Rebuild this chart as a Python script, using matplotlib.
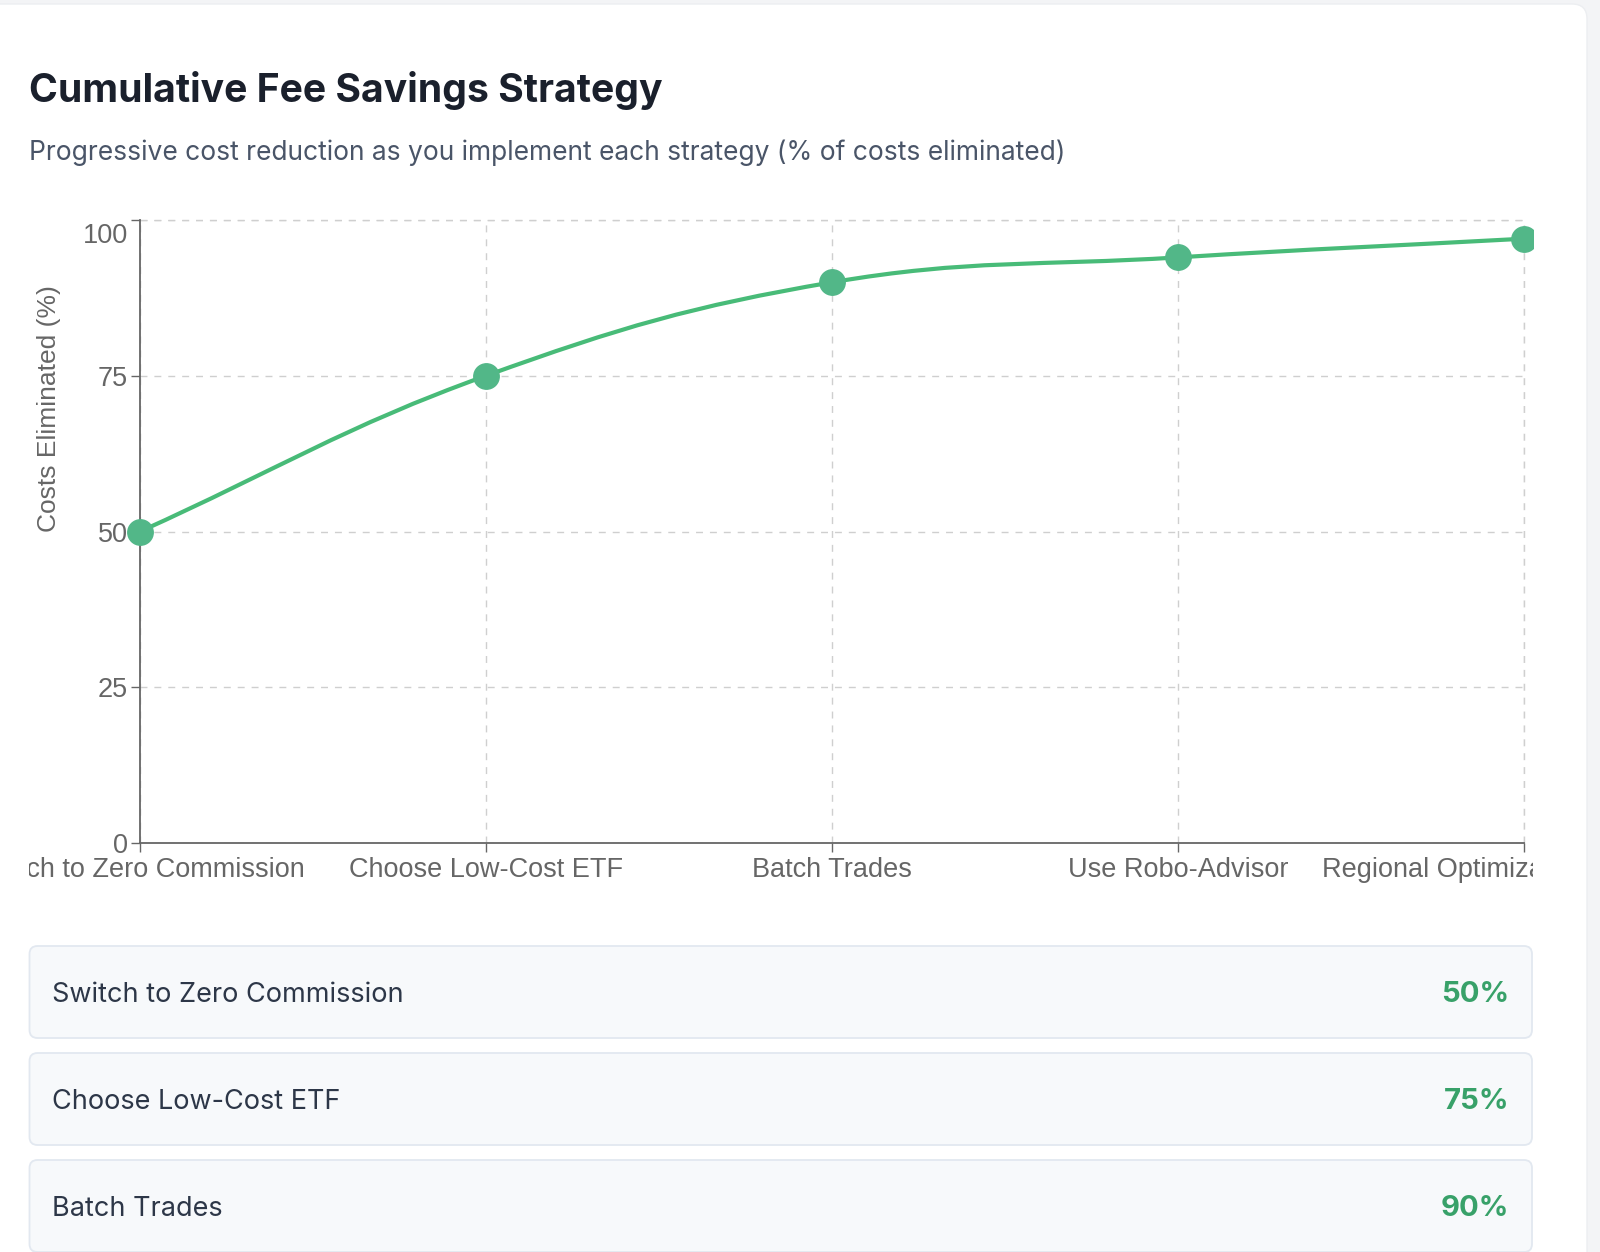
import matplotlib
matplotlib.use("Agg")
import matplotlib.pyplot as plt
from matplotlib.patches import FancyBboxPatch, PathPatch
from matplotlib.path import Path
from matplotlib.transforms import Bbox, ScaledTranslation
import numpy as np

# data
strategies = ["Switch to Zero Commission", "Choose Low-Cost ETF", "Batch Trades",
              "Use Robo-Advisor", "Regional Optimization"]
savings = [50, 75, 90, 94, 97]
yticks = [0, 25, 50, 75, 100]

W, H = 1600, 1252
fig = plt.figure(figsize=(W / 100, H / 100), dpi=100)
fig.patch.set_facecolor("#f3f4f6")
tr = fig.dpi_scale_trans


def P(x, y):
    # page pixels (top-left origin) -> inches
    return x / 100, (H - y) / 100


# white card
x0, y0 = P(-40, 4)
x1, y1 = P(1587, 1300)
fig.patches.append(FancyBboxPatch((x0, y1), x1 - x0, y0 - y1,
                                  boxstyle="round,pad=0,rounding_size=0.15",
                                  fc="white", ec="#eceef1", lw=1, transform=tr, zorder=-10))

fig.text(*P(29, 101.5), "Cumulative Fee Savings Strategy", transform=tr,
         family="Inter", weight="bold", fontsize=28.2, color="#1a202c", va="baseline")
fig.text(*P(29, 160), "Progressive cost reduction as you implement each strategy (% of costs eliminated)",
         transform=tr, family="Inter", fontsize=19, color="#4a5568", va="baseline")

# chart
ax = fig.add_axes([140 / W, 1 - 843 / H, (1524 - 140) / W, (843 - 220) / H])
ax.set_facecolor("none")
x = np.arange(len(strategies))
ax.set_xlim(0, len(strategies) - 1)
ax.set_ylim(0, 100)
ax.set_xticks(x, strategies)
ax.set_yticks(yticks)
for s in ["top", "right"]:
    ax.spines[s].set_visible(False)
for s in ["left", "bottom"]:
    ax.spines[s].set_color("#666666")
    ax.spines[s].set_linewidth(1.3)
ax.grid(True, color="#cfcfcf", lw=1, ls=(0, (5, 5)))
ax.set_axisbelow(True)
# dashed grid also at the top and right edges
ax.axhline(100, color="#cfcfcf", lw=1, ls=(0, (5, 5)), clip_on=False, zorder=0.5)
ax.axvline(len(strategies) - 1, color="#cfcfcf", lw=1, ls=(0, (5, 5)), clip_on=False, zorder=0.5)

ax.tick_params(axis="both", length=6.8, width=1, color="#666666", labelcolor="#666666",
               labelsize=19.5)
ax.tick_params(axis="y", pad=2)
ax.tick_params(axis="x", pad=3.5)
for lab in ax.get_xticklabels() + ax.get_yticklabels():
    lab.set_family("Liberation Sans")
top_lab = ax.get_yticklabels()[-1]
top_lab.set_transform(top_lab.get_transform() + ScaledTranslation(0, -0.13, tr))
# last category label is pushed left so it ends at the canvas edge
last_lab = ax.get_xticklabels()[-1]
last_lab.set_ha("right")
last_lab.set_transform(last_lab.get_transform() + ScaledTranslation(0.63, 0, tr))

ax.set_ylabel("Costs Eliminated (%)", family="Liberation Sans", fontsize=19,
              color="#666666")
ax.yaxis.set_label_coords((61 - 140) / 1384, (843 - 409) / 623)

clip = Bbox([[29, 0], [1533, H]])
for lab in ax.get_xticklabels():
    lab.set_clip_on(True)
    lab.set_clip_box(clip)

# smooth line like a tension 0.4 spline, computed in pixel space
pts = ax.transData.transform(np.column_stack([x, savings]))
t = 0.4
ctrl = []
n = len(pts)
for i in range(n):
    prev = pts[i - 1] if i > 0 else pts[i]
    cur = pts[i]
    nxt = pts[i + 1] if i < n - 1 else pts[i]
    d01 = np.hypot(*(cur - prev))
    d12 = np.hypot(*(nxt - cur))
    s01 = d01 / (d01 + d12)
    s12 = d12 / (d01 + d12)
    ctrl.append((cur - t * s01 * (nxt - prev), cur + t * s12 * (nxt - prev)))
verts = [pts[0]]
codes = [Path.MOVETO]
for i in range(n - 1):
    verts += [ctrl[i][1], ctrl[i + 1][0], pts[i + 1]]
    codes += [Path.CURVE4] * 3
verts = ax.transData.inverted().transform(np.array(verts))
ax.add_patch(PathPatch(Path(verts, codes), fc="none", ec="#48bb78", lw=3, clip_on=False,
                       capstyle="round", joinstyle="round", zorder=2))
mk, = ax.plot(x, savings, "o", ms=18.3, color="#52b788", mec="#52b788", zorder=3)
mk.set_clip_on(True)
mk.set_clip_box(clip)

# summary cards
for i, (name, val) in enumerate(zip(strategies, savings)):
    top = 946 + i * 107
    cx0, cy0 = P(29.5, top + 92)
    fig.patches.append(FancyBboxPatch((cx0, cy0), (1532 - 29.5) / 100, 0.92,
                                      boxstyle="round,pad=0,rounding_size=0.08",
                                      fc="#f7f9fb", ec="#e2e8f0", lw=1.3, transform=tr))
    fig.text(*P(52, top + 56), name, transform=tr, family="Inter", fontsize=19.5,
             color="#2d3748", va="baseline")
    fig.text(*P(1509, top + 56), f"{val}%", transform=tr, family="Inter", weight="bold",
             fontsize=21, color="#38a169", va="baseline", ha="right")

fig.savefig("out.png", dpi=100)
